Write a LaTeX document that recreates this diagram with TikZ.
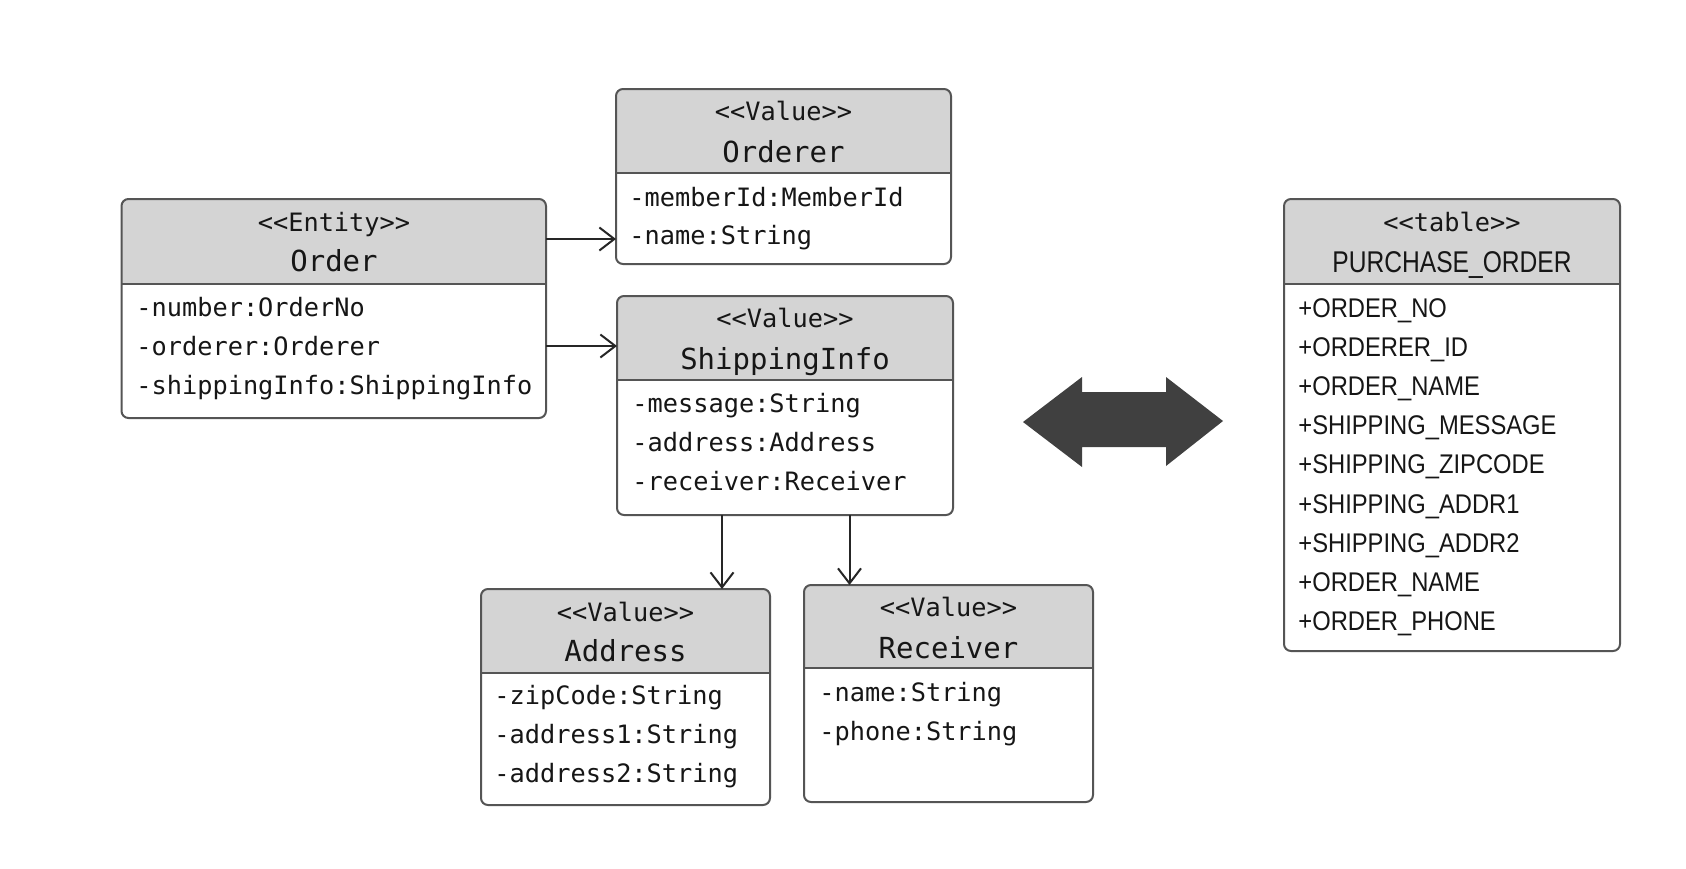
\documentclass[tikz,border=0pt]{standalone}
\usepackage{fontspec}
\usetikzlibrary{arrows.meta,fit}
\newfontfamily\monof[Ligatures=TeXOff]{DejaVu Sans Mono}
\newfontfamily\tabf[FakeStretch=0.88]{Liberation Sans}
\newfontfamily\tabtf[FakeStretch=0.82]{Liberation Sans}
\definecolor{headfill}{HTML}{D4D4D4}
\definecolor{bordercol}{HTML}{555555}
\definecolor{arrowdark}{HTML}{404040}
\definecolor{txt}{HTML}{161616}
\tikzset{
  classbox/.style={draw=bordercol, line width=1pt, rounded corners=3.5pt, inner sep=0pt, outer sep=0pt},
  boxline/.style={draw=bordercol, line width=1pt},
  attr/.style={anchor=base west, inner sep=0pt, text=txt, font=\monof\fontsize{12.65}{15}\selectfont},
  stereo/.style={anchor=base, inner sep=0pt, text=txt, font=\monof\fontsize{12.65}{15}\selectfont},
  cname/.style={anchor=base, inner sep=0pt, text=txt, font=\monof\fontsize{14.5}{17}\selectfont},
  trow/.style={anchor=base west, inner sep=0pt, text=txt, font=\tabf\fontsize{13.5}{16}\selectfont},
  tname/.style={anchor=base, inner sep=0pt, text=txt, font=\tabtf\fontsize{15}{17}\selectfont},
  conn/.style={draw=black!85, line width=1pt, -{Straight Barb[length=7.5pt,width=11.5pt]}}
}
\newcommand\umlclass[6]{%
  \fill[headfill,rounded corners=3.5pt] (#2,#3) rectangle (#4,#5);
  \fill[white] (#2,#6) rectangle (#4,#5);
  \node[classbox, fit={(#2,#3) (#4,#5)}] (#1) {};
  \draw[boxline] (#2,#6) -- (#4,#6);
}
\begin{document}
\begin{tikzpicture}[x=0.5pt,y=-0.5pt]
\useasboundingbox (0,0) rectangle (1686,868);
\fill[white] (0,0) rectangle (1686,868);

% Order
\umlclass{order}{121.5}{199}{546}{418}{284}
\node[stereo] (order-st) at (334,231.5) {<<Entity>>};
\node[cname] (order-nm) at (334,271.5) {Order};
\node[attr] (order-a1) at (136,316.5) {-number:OrderNo};
\node[attr] (order-a2) at (136,355) {-orderer:Orderer};
\node[attr] (order-a3) at (136,394) {-shippingInfo:ShippingInfo};

% Orderer
\umlclass{orderer}{616}{89}{951}{264}{173}
\node[stereo] (orderer-st) at (783.5,120) {<<Value>>};
\node[cname] (orderer-nm) at (783.5,162) {Orderer};
\node[attr] (orderer-a1) at (629,206) {-memberId:MemberId};
\node[attr] (orderer-a2) at (629,244.5) {-name:String};

% ShippingInfo
\umlclass{shipping}{617}{296}{953}{515}{380}
\node[stereo] (shipping-st) at (785,327) {<<Value>>};
\node[cname] (shipping-nm) at (785,369.5) {ShippingInfo};
\node[attr] (shipping-a1) at (632,412) {-message:String};
\node[attr] (shipping-a2) at (632,451) {-address:Address};
\node[attr] (shipping-a3) at (632,490.7) {-receiver:Receiver};

% Address
\umlclass{address}{481}{589}{770}{805}{673}
\node[stereo] (address-st) at (625.5,621) {<<Value>>};
\node[cname] (address-nm) at (625.5,661) {Address};
\node[attr] (address-a1) at (494,704.7) {-zipCode:String};
\node[attr] (address-a2) at (494,743.4) {-address1:String};
\node[attr] (address-a3) at (494,782) {-address2:String};

% Receiver
\umlclass{receiver}{804}{585}{1093}{802}{668}
\node[stereo] (receiver-st) at (948.5,616.5) {<<Value>>};
\node[cname] (receiver-nm) at (948.5,658) {Receiver};
\node[attr] (receiver-a1) at (819,701.5) {-name:String};
\node[attr] (receiver-a2) at (819,740) {-phone:String};

% PURCHASE_ORDER table
\umlclass{table}{1284}{199}{1620}{651}{284}
\node[stereo] (table-st) at (1452,231.6) {<<table>>};
\node[tname] (table-nm) at (1452,272) {PURCHASE\_ORDER};
\node[trow] (table-r1) at (1298,317) {+ORDER\_NO};
\node[trow] (table-r2) at (1298,356.2) {+ORDERER\_ID};
\node[trow] (table-r3) at (1298,395.4) {+ORDER\_NAME};
\node[trow] (table-r4) at (1298,434.6) {+SHIPPING\_MESSAGE};
\node[trow] (table-r5) at (1298,473.8) {+SHIPPING\_ZIPCODE};
\node[trow] (table-r6) at (1298,513) {+SHIPPING\_ADDR1};
\node[trow] (table-r7) at (1298,552.2) {+SHIPPING\_ADDR2};
\node[trow] (table-r8) at (1298,591.4) {+ORDER\_NAME};
\node[trow] (table-r9) at (1298,630.6) {+ORDER\_PHONE};

% connectors
\draw[conn] (order.east |- 0,239) -- (orderer.west |- 0,239);
\draw[conn] (order.east |- 0,346) -- (shipping.west |- 0,346);
\draw[conn] (722,0 |- shipping.south) -- (722,0 |- address.north);
\draw[conn] (849.5,0 |- shipping.south) -- (849.5,0 |- receiver.north);

% big double arrow
\fill[arrowdark] (1023,422) -- (1082,377) -- (1082,392) -- (1166,392) -- (1166,377)
  -- (1223,421) -- (1166,466) -- (1166,447) -- (1082,447) -- (1082,467) -- cycle;
\end{tikzpicture}
\end{document}
